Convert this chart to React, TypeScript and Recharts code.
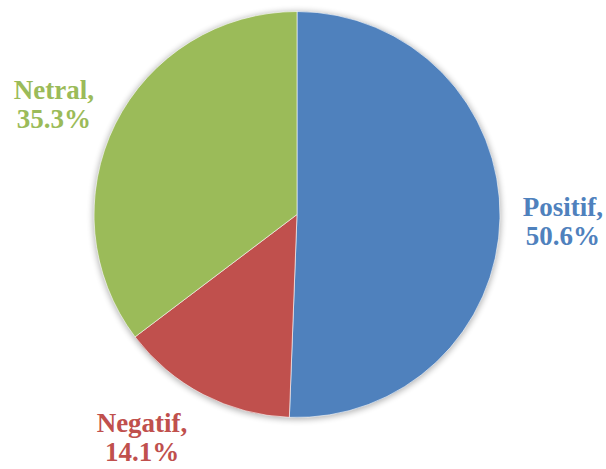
import React from "react";
import { PieChart, Pie, Cell } from "recharts";

const categories = ["Positif", "Negatif", "Netral"];
const values = [50.6, 14.1, 35.3];
const valueLabels = ["50.6%", "14.1%", "35.3%"];

const colors = ["#4F81BD", "#C0504D", "#9BBB59"];
const nudges = [
  [0, 1.5],
  [-32, -13],
  [-5, 8],
];

const data = categories.map((name, i) => ({ name, value: values[i], label: valueLabels[i] }));

const CX = 297;
const CY = 214.5;
const R = 203;
const RAD = Math.PI / 180;

const renderLabel = (props: any) => {
  const { cx, cy, midAngle, index } = props;
  const r = 266;
  const x = cx + r * Math.cos(-midAngle * RAD) + nudges[index][0];
  const y = cy + r * Math.sin(-midAngle * RAD) + nudges[index][1];
  const b1 = y - 5;
  return (
    <text
      x={x}
      y={b1}
      textAnchor="middle"
      fill={colors[index]}
      fontFamily="'Liberation Serif', serif"
      fontWeight="bold"
      fontSize={27}
    >
      <tspan x={x} y={b1}>{data[index].name + ","}</tspan>
      <tspan x={x} y={b1 + 29}>{data[index].label}</tspan>
    </text>
  );
};

export default function App() {
  return (
    <div style={{ position: "absolute", left: 0, top: 0, width: 606, height: 469, background: "#fff" }}>
      <svg width={606} height={469} style={{ position: "absolute", left: 0, top: 0 }}>
        <defs>
          <filter id="sh" x="-20%" y="-20%" width="140%" height="140%">
            <feGaussianBlur stdDeviation="3" />
          </filter>
        </defs>
        <circle cx={CX} cy={CY + 1} r={R + 1} fill="#000" opacity={0.3} filter="url(#sh)" />
      </svg>
      <div style={{ position: "absolute", left: 0, top: 0 }}>
        <PieChart width={606} height={469} margin={{ top: 0, right: 0, bottom: 0, left: 0 }}>
          <Pie
            data={data}
            dataKey="value"
            nameKey="name"
            cx={CX}
            cy={CY}
            outerRadius={R}
            startAngle={90}
            endAngle={-270}
            stroke="#ffffff"
            strokeWidth={0.6}
            label={renderLabel}
            labelLine={false}
            isAnimationActive={false}
          >
            {data.map((d, i) => (
              <Cell key={d.name} fill={colors[i]} />
            ))}
          </Pie>
        </PieChart>
      </div>
    </div>
  );
}
